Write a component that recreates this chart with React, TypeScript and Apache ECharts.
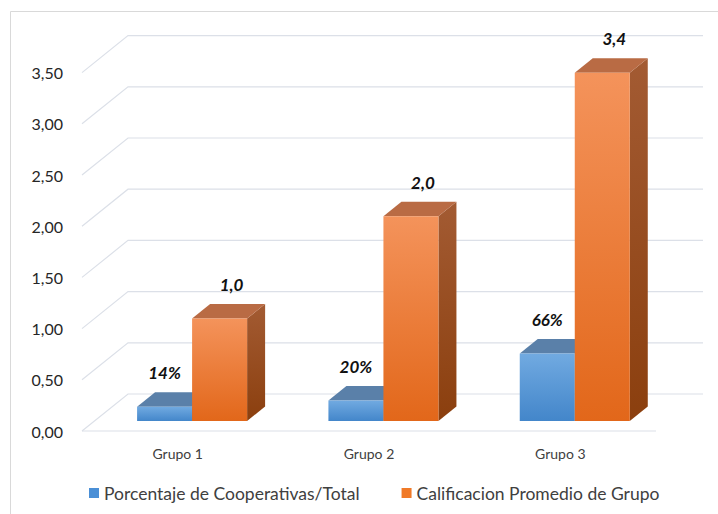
import React, { useEffect, useRef } from "react";
import * as echarts from "echarts";

const categories = ["Grupo 1", "Grupo 2", "Grupo 3"];
const porcentaje = [0.14, 0.2, 0.66];
const porcentajeLabels = ["14%", "20%", "66%"];
const calificacion = [1.0, 2.0, 3.4];
const calificacionLabels = ["1,0", "2,0", "3,4"];
const yTicks = [0, 0.5, 1, 1.5, 2, 2.5, 3, 3.5];
const seriesNames = ["Porcentaje de Cooperativas/Total", "Calificacion Promedio de Grupo"];

const FONT = "Lato, 'Open Sans', sans-serif";
const WALL_DX = 46;
const WALL_DY = -37;
const BAR_FRONT_FRAC = 0.27;
const BAR_DX = 18;
const BAR_DY = -14.5;
const BAR_W_FRAC = 0.2875;
const PAIR_START_FRAC = 0.223;

const palettes = [
  {
    front: ["#71AAE1", "#4386CA"],
    top: "#5A80A9",
    side: ["#3F6EA0", "#345E8C"],
    legend: "#4A8FD6",
    labelDx: 0,
  },
  {
    front: ["#F4935B", "#E2671A"],
    top: "#B96B44",
    side: ["#A35B33", "#8B3F0E"],
    legend: "#F07A28",
    labelDx: 12,
  },
];

function barRenderer(k: number, labels: string[]) {
  const pal = palettes[k];
  return (params: any, api: any) => {
    const idx = api.value(0);
    const v = api.value(1);
    const p0 = api.coord([idx, 0]);
    const pv = api.coord([idx, v]);
    const band = api.size([1, 0])[0];
    const bw = band * BAR_W_FRAC;
    const ox = WALL_DX * BAR_FRONT_FRAC;
    const oy = WALL_DY * BAR_FRONT_FRAC;
    const left = p0[0] - band / 2 + band * PAIR_START_FRAC + ox + k * bw;
    const bottom = p0[1] + oy;
    const top = pv[1] + oy;
    const frontGrad = new echarts.graphic.LinearGradient(0, 0, 0, 1, [
      { offset: 0, color: pal.front[0] },
      { offset: 1, color: pal.front[1] },
    ]);
    const sideGrad = new echarts.graphic.LinearGradient(0, 0, 0, 1, [
      { offset: 0, color: pal.side[0] },
      { offset: 1, color: pal.side[1] },
    ]);
    return {
      type: "group",
      children: [
        {
          type: "polygon",
          shape: {
            points: [
              [left + bw, top],
              [left + bw + BAR_DX, top + BAR_DY],
              [left + bw + BAR_DX, bottom + BAR_DY],
              [left + bw, bottom],
            ],
          },
          style: { fill: sideGrad },
        },
        {
          type: "polygon",
          shape: {
            points: [
              [left, top],
              [left + bw, top],
              [left + bw + BAR_DX, top + BAR_DY],
              [left + BAR_DX, top + BAR_DY],
            ],
          },
          style: { fill: pal.top },
        },
        {
          type: "rect",
          shape: { x: left, y: top, width: bw, height: bottom - top },
          style: { fill: frontGrad },
        },
        {
          type: "text",
          x: left + bw / 2 + pal.labelDx,
          y: top + BAR_DY - 19.5,
          style: {
            text: labels[params.dataIndex],
            fill: "#111111",
            font: `italic bold 17px ${FONT}`,
            align: "center",
            verticalAlign: "middle",
          },
        },
      ],
    };
  };
}

export default function App() {
  const ref = useRef<HTMLDivElement>(null);
  useEffect(() => {
    if (!ref.current) return;
    const chart = echarts.init(ref.current, null, { renderer: "svg" });
    chart.setOption({
      animation: false,
      backgroundColor: "#ffffff",
      graphic: [
        {
          type: "rect",
          silent: true,
          z: -10,
          shape: { x: 10.5, y: 11.5, width: 800, height: 600 },
          style: { fill: "none", stroke: "#D9D9D9", lineWidth: 1 },
        },
      ],
      grid: {
        left: 82,
        right: 62,
        top: 72.6,
        bottom: 83,
        outerBoundsMode: "none",
      },
      legend: {
        data: seriesNames,
        left: 84,
        top: 479,
        icon: "rect",
        itemWidth: 10,
        itemHeight: 10,
        itemGap: 42,
        textStyle: { fontFamily: FONT, fontSize: 17.5, color: "#404040" },
      },
      xAxis: {
        type: "category",
        data: categories,
        axisLine: { show: false },
        axisTick: { show: false },
        splitLine: { show: false },
        axisLabel: { margin: 15, fontFamily: FONT, fontSize: 14, color: "#404040" },
      },
      yAxis: {
        type: "value",
        min: 0,
        max: 3.5,
        interval: 0.5,
        axisLine: { show: false },
        axisTick: { show: false },
        splitLine: { show: false },
        axisLabel: {
          margin: 19,
          fontFamily: FONT,
          fontSize: 16,
          color: "#262626",
          formatter: (v: number) => v.toFixed(2).replace(".", ","),
        },
      },
      series: [
        {
          type: "custom",
          name: "grid3d",
          z: 1,
          silent: true,
          encode: { x: 0, y: 1 },
          data: yTicks.map((t) => [0, t]),
          renderItem: (params: any, api: any) => {
            const cs = params.coordSys;
            const v = api.value(1);
            const y = api.coord([0, v])[1];
            const children: any[] = [
              {
                type: "polyline",
                shape: {
                  points: [
                    [cs.x, y],
                    [cs.x + WALL_DX, y + WALL_DY],
                    [cs.x + cs.width + WALL_DX + 1, y + WALL_DY],
                  ],
                },
                style: { stroke: "#DCE0E8", lineWidth: 1.2, fill: "none" },
              },
            ];
            if (v === 0) {
              children.push({
                type: "line",
                shape: { x1: cs.x, y1: y, x2: cs.x + cs.width, y2: y },
                style: { stroke: "#DCE0E8", lineWidth: 1.2 },
              });
            }
            return { type: "group", children };
          },
        },
        {
          type: "custom",
          name: seriesNames[0],
          z: 2,
          encode: { x: 0, y: 1 },
          itemStyle: { color: palettes[0].legend },
          data: porcentaje.map((v, i) => [i, v]),
          renderItem: barRenderer(0, porcentajeLabels),
        },
        {
          type: "custom",
          name: seriesNames[1],
          z: 3,
          encode: { x: 0, y: 1 },
          itemStyle: { color: palettes[1].legend },
          data: calificacion.map((v, i) => [i, v]),
          renderItem: barRenderer(1, calificacionLabels),
        },
      ],
    });
    return () => chart.dispose();
  }, []);
  return (
    <div
      ref={ref}
      style={{ position: "fixed", left: 0, top: 0, width: 718, height: 514, background: "#fff" }}
    />
  );
}
